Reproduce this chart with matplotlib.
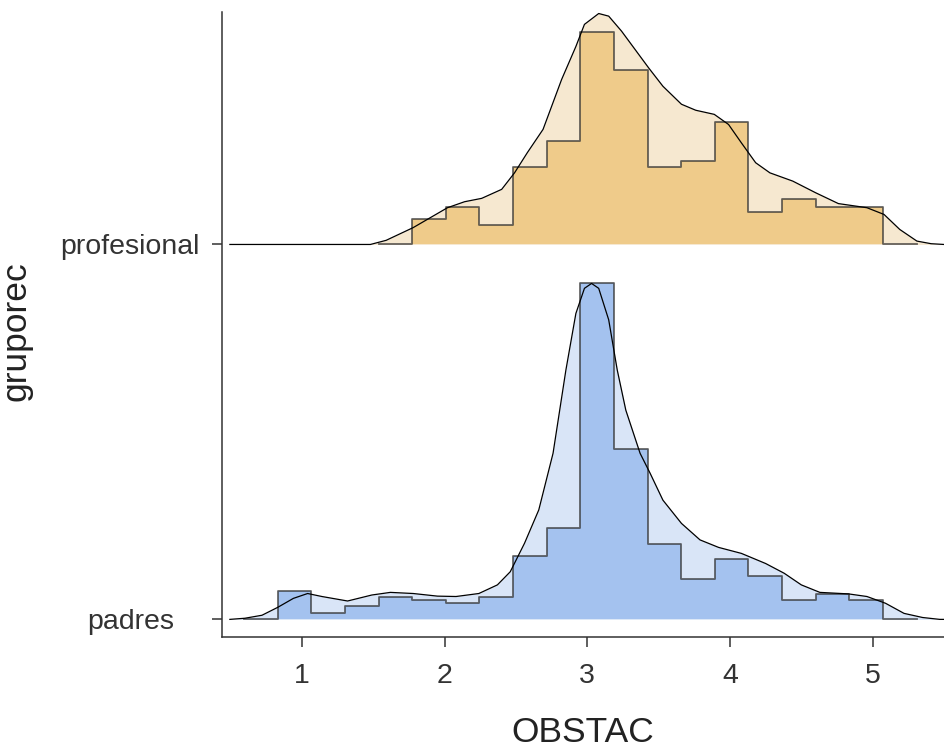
import numpy as np
import matplotlib
matplotlib.use('Agg')
import matplotlib.pyplot as plt

plt.rcParams['font.family'] = ['Liberation Sans', 'DejaVu Sans']

groups = ['padres', 'profesional']
group_pos = [1, 2]

# histogram bins (shared start / width)
bin_start = 0.83
bin_width = 0.2357

# histogram heights (ridge units), padres starts at first bin, profesional at bin 5
padres_hist = [0.077, 0.016, 0.037, 0.061, 0.053, 0.045, 0.061, 0.170, 0.243,
               0.896, 0.454, 0.202, 0.109, 0.162, 0.117, 0.051, 0.069, 0.051]
prof_first_bin = 4
prof_hist = [0.069, 0.101, 0.051, 0.206, 0.275, 0.567, 0.466, 0.206, 0.222,
             0.327, 0.086, 0.121, 0.101, 0.101]

# density curves
padres_dx = [0.495, 0.60, 0.72, 0.83, 0.94, 1.04, 1.14, 1.32, 1.49, 1.62, 1.78, 1.95,
             2.08, 2.24, 2.37, 2.46, 2.56, 2.66, 2.76, 2.85, 2.92, 2.98, 3.03, 3.08,
             3.15, 3.21, 3.27, 3.37, 3.44, 3.53, 3.66, 3.79, 3.92, 4.08, 4.25, 4.38,
             4.50, 4.63, 4.83, 4.96, 5.09, 5.22, 5.35, 5.47, 5.50]
padres_dy = [0.0, 0.003, 0.011, 0.032, 0.056, 0.069, 0.061, 0.049, 0.065, 0.072, 0.069, 0.062,
             0.061, 0.069, 0.092, 0.127, 0.203, 0.292, 0.443, 0.665, 0.816, 0.883, 0.896, 0.883,
             0.799, 0.665, 0.558, 0.443, 0.390, 0.318, 0.256, 0.212, 0.192, 0.176, 0.149, 0.123,
             0.092, 0.072, 0.068, 0.061, 0.043, 0.016, 0.005, 0.0, 0.0]

prof_dx = [0.495, 1.48, 1.59, 1.78, 2.02, 2.14, 2.26, 2.40, 2.49, 2.58, 2.69, 2.82, 2.92,
           2.98, 3.08, 3.15, 3.24, 3.43, 3.53, 3.66, 3.76, 3.89, 3.99, 4.08, 4.18, 4.28,
           4.44, 4.60, 4.76, 4.96, 5.08, 5.19, 5.31, 5.41, 5.50]
prof_dy = [0.0, 0.0, 0.011, 0.045, 0.098, 0.114, 0.123, 0.147, 0.191, 0.245, 0.307, 0.440, 0.528,
           0.587, 0.616, 0.609, 0.569, 0.471, 0.422, 0.374, 0.358, 0.347, 0.320, 0.271, 0.218, 0.191,
           0.169, 0.138, 0.109, 0.098, 0.080, 0.040, 0.009, 0.002, 0.0]

light = {'padres': '#d9e5f7', 'profesional': '#f6e8d0'}
dark = {'padres': '#a4c2ef', 'profesional': '#efcb8a'}

fig = plt.figure(figsize=(9.44, 7.51), dpi=100)
ax = fig.add_axes([0.2352, 0.1518, 0.7648, 0.8322])


def draw_ridge(y0, name, first_bin, hist, dx, dy, z):
    dx = np.array(dx)
    dy = np.array(dy)
    ax.fill_between(dx, y0, y0 + dy, color=light[name], lw=0, zorder=z)
    edges = bin_start + bin_width * np.arange(first_bin, first_bin + len(hist) + 1)
    h = np.array(hist)
    ax.fill_between(np.repeat(edges, 2)[1:-1], y0, y0 + np.repeat(h, 2),
                    color=dark[name], lw=0, zorder=z + 0.1)
    # step outline, with an empty bin on each side
    sx = np.concatenate([[edges[0] - bin_width], np.repeat(edges, 2), [edges[-1] + bin_width]])
    sy = np.concatenate([[0, 0], np.repeat(h, 2), [0, 0]])
    ax.plot(sx, y0 + sy, color='#333333', alpha=0.75, lw=1.3, zorder=z + 0.2)
    ax.plot(dx, y0 + dy, color='black', lw=0.9, zorder=z + 0.3)


draw_ridge(group_pos[1], 'profesional', prof_first_bin, prof_hist, prof_dx, prof_dy, 2)
draw_ridge(group_pos[0], 'padres', 0, padres_hist, padres_dx, padres_dy, 4)

ax.set_xlim(0.44, 5.5)
ax.set_ylim(0.953, 2.62)
ax.set_xticks([1, 2, 3, 4, 5])
ax.set_yticks(group_pos)
ax.set_yticklabels(groups)

for s in ['top', 'right']:
    ax.spines[s].set_visible(False)
for s in ['left', 'bottom']:
    ax.spines[s].set_color('#333333')
    ax.spines[s].set_linewidth(1.1)

ax.tick_params(axis='both', colors='#333333', length=7, width=1.1, labelsize=20.5,
               labelcolor='#333333')
ax.tick_params(axis='x', pad=12)
ax.tick_params(axis='y', pad=59)
for lab in ax.get_yticklabels():
    lab.set_horizontalalignment('center')

ax.set_xlabel('OBSTAC', fontsize=25.5, color='#222222', labelpad=19)
ax.set_ylabel('gruporec', fontsize=25.5, color='#222222', labelpad=0)
ax.yaxis.set_label_coords(-0.262, 0.49)

fig.savefig('out.png', dpi=100)
